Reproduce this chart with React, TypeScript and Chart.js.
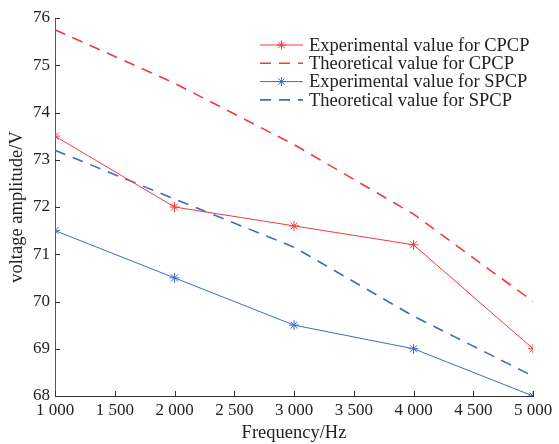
import React, { useEffect, useRef } from "react";
import { Chart, registerables } from "chart.js";

Chart.register(...registerables);

const frequencies = [1000, 2000, 3000, 4000, 5000];
const expCPCP = [73.5, 72.0, 71.6, 71.2, 69.0];
const theoCPCP = [75.75, 74.62, 73.32, 71.85, 70.0];
const expSPCP = [71.5, 70.5, 69.5, 69.0, 68.0];
const theoSPCP = [73.2, 72.17, 71.15, 69.69, 68.42];
const seriesLabels = [
  "Experimental value for CPCP",
  "Theoretical value for CPCP",
  "Experimental value for SPCP",
  "Theoretical value for SPCP",
];

const RED = "#f23a3a";
const BLUE = "#3f6cc0";
const FONT = "'Liberation Serif', 'DejaVu Serif', serif";

const toXY = (ys: number[]) => frequencies.map((x, i) => ({ x, y: ys[i] }));

const fmt = (v: number) => {
  const s = String(Math.round(v));
  return s.length > 3 ? s.slice(0, s.length - 3) + " " + s.slice(-3) : s;
};

const inwardTicks = {
  id: "inwardTicks",
  afterDatasetsDraw(chart: any) {
    const { ctx, chartArea, scales } = chart;
    ctx.save();
    ctx.strokeStyle = "#333";
    ctx.lineWidth = 1;
    ctx.beginPath();
    scales.x.ticks.forEach((t: any) => {
      const px = Math.round(scales.x.getPixelForValue(t.value)) + 0.5;
      ctx.moveTo(px, chartArea.bottom);
      ctx.lineTo(px, chartArea.bottom - 5);
    });
    scales.y.ticks.forEach((t: any) => {
      const py = Math.round(scales.y.getPixelForValue(t.value)) + 0.5;
      ctx.moveTo(chartArea.left, py);
      ctx.lineTo(chartArea.left + 5, py);
    });
    ctx.stroke();
    ctx.restore();
  },
};

const customLegend = {
  id: "customLegend",
  afterDraw(chart: any) {
    const { ctx } = chart;
    const x0 = 260;
    const x1 = 303;
    const startY = 45;
    const step = 18.3;
    ctx.save();
    ctx.font = `18.5px ${FONT}`;
    ctx.textBaseline = "middle";
    ctx.fillStyle = "#222";
    chart.data.datasets.forEach((ds: any, i: number) => {
      const y = startY + i * step;
      ctx.strokeStyle = ds.borderColor;
      ctx.lineWidth = ds.borderWidth;
      ctx.setLineDash(ds.borderDash || []);
      ctx.beginPath();
      ctx.moveTo(x0, y);
      ctx.lineTo(x1, y);
      ctx.stroke();
      ctx.setLineDash([]);
      if (ds.pointRadius > 0) {
        const cx = (x0 + x1) / 2;
        const r = 4.5;
        ctx.beginPath();
        for (let k = 0; k < 4; k++) {
          const a = (k * Math.PI) / 4;
          ctx.moveTo(cx - r * Math.cos(a), y - r * Math.sin(a));
          ctx.lineTo(cx + r * Math.cos(a), y + r * Math.sin(a));
        }
        ctx.stroke();
      }
      ctx.fillText(ds.label, x1 + 6, y + 1);
    });
    ctx.restore();
  },
};

export default function App() {
  const ref = useRef<HTMLCanvasElement | null>(null);
  useEffect(() => {
    document.body.style.margin = "0";
    if (!ref.current) return;
    const chart = new Chart(ref.current, {
      type: "line",
      data: {
        datasets: [
          {
            label: seriesLabels[0],
            data: toXY(expCPCP),
            borderColor: RED,
            backgroundColor: RED,
            borderWidth: 1,
            pointStyle: "star",
            pointRadius: 5,
            pointBorderWidth: 1,
          },
          {
            label: seriesLabels[1],
            data: toXY(theoCPCP),
            borderColor: RED,
            borderWidth: 1.6,
            borderDash: [11, 8],
            pointRadius: 0,
          },
          {
            label: seriesLabels[2],
            data: toXY(expSPCP),
            borderColor: BLUE,
            backgroundColor: BLUE,
            borderWidth: 1,
            pointStyle: "star",
            pointRadius: 5,
            pointBorderWidth: 1,
          },
          {
            label: seriesLabels[3],
            data: toXY(theoSPCP),
            borderColor: BLUE,
            borderWidth: 1.6,
            borderDash: [11, 8],
            pointRadius: 0,
          },
        ],
      } as any,
      options: {
        animation: false,
        responsive: false,
        layout: { padding: { top: 18, right: 26, left: 0, bottom: 0 } },
        plugins: { legend: { display: false }, tooltip: { enabled: false } },
        scales: {
          x: {
            type: "linear",
            min: 1000,
            max: 5000,
            grid: { display: false, drawTicks: false },
            border: { display: true, color: "#333", width: 1 },
            ticks: {
              stepSize: 500,
              padding: 4,
              color: "#222",
              font: { family: FONT, size: 17 },
              callback: (v: any) => fmt(Number(v)),
              maxRotation: 0,
            },
            title: {
              display: true,
              text: "Frequency/Hz",
              color: "#222",
              font: { family: FONT, size: 18.5 },
              padding: { top: 0, bottom: 0 },
            },
            afterFit: (s: any) => {
              s.height = 48;
            },
          },
          y: {
            min: 68,
            max: 76,
            grid: { display: false, drawTicks: false },
            border: { display: true, color: "#555", width: 1 },
            ticks: {
              stepSize: 1,
              padding: 5,
              color: "#222",
              font: { family: FONT, size: 17 },
            },
            title: {
              display: true,
              text: "voltage amplitude/V",
              color: "#222",
              font: { family: FONT, size: 18.5 },
              padding: { top: 6, bottom: 0 },
            },
            afterFit: (s: any) => {
              s.width = 55;
            },
          },
        },
      } as any,
      plugins: [inwardTicks, customLegend],
    });
    return () => chart.destroy();
  }, []);
  return (
    <div style={{ width: 559, height: 444, background: "#fff" }}>
      <canvas ref={ref} width={559} height={444} />
    </div>
  );
}
